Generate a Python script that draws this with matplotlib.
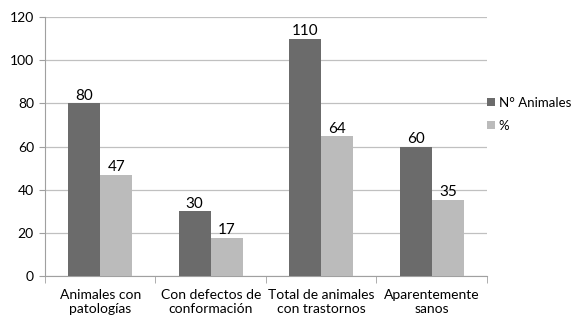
import numpy as np
import matplotlib.pyplot as plt

categories = ['Animales con\npatologías', 'Con defectos de\nconformación',
              'Total de animales\ncon trastornos', 'Aparentemente\nsanos']
n_animales = [80, 30, 110, 60]
porcentaje = [47.06, 17.65, 64.71, 35.29]
n_labels = ['80', '30', '110', '60']
pct_labels = ['47', '17', '64', '35']

dark = '#6b6b6b'
light = '#bbbbbb'

plt.rcParams['font.family'] = ['Lato', 'DejaVu Sans']

fig = plt.figure(figsize=(5.74, 3.17), dpi=100)
ax = fig.add_axes([0.0784, 0.129, 0.77, 0.817])

x = np.arange(len(categories))
w = 0.29
b1 = ax.bar(x - w / 2, n_animales, w, color=dark, label='N° Animales', zorder=3)
b2 = ax.bar(x + w / 2, porcentaje, w, color=light, label='%', zorder=3)

for rect, lab in zip(b1, n_labels):
    ax.text(rect.get_x() + rect.get_width() / 2, rect.get_height() + 0.3, lab,
            ha='center', va='bottom', fontsize=11, color='black')
for rect, lab in zip(b2, pct_labels):
    ax.text(rect.get_x() + rect.get_width() / 2, rect.get_height() + 0.3, lab,
            ha='center', va='bottom', fontsize=11, color='black')

ax.set_xlim(-0.5, len(categories) - 0.5)
ax.set_ylim(0, 120)
ax.set_yticks(range(0, 121, 20))
ax.yaxis.grid(True, color='#c0c0c0', linewidth=0.9, zorder=0)
ax.set_axisbelow(True)

ax.set_xticks(x)
ax.set_xticklabels(categories, fontsize=10, linespacing=1.2)
ax.set_xticks(np.arange(-0.5, len(categories)), minor=True)
ax.tick_params(axis='x', which='major', length=0, pad=9)
ax.tick_params(axis='x', which='minor', length=5, color='#a0a0a0')
ax.tick_params(axis='y', length=4, color='#a0a0a0', labelsize=10, pad=4)

for s in ['top', 'right']:
    ax.spines[s].set_visible(False)
ax.spines['left'].set_color('#a0a0a0')
ax.spines['bottom'].set_color('#a0a0a0')

ax.legend(loc='center left', bbox_to_anchor=(1.0, 0.625), frameon=False,
          fontsize=9.5, handlelength=0.6, handleheight=0.6, handletextpad=0.3,
          labelspacing=0.8, borderpad=0, borderaxespad=0)

fig.savefig('out.png', dpi=100)
